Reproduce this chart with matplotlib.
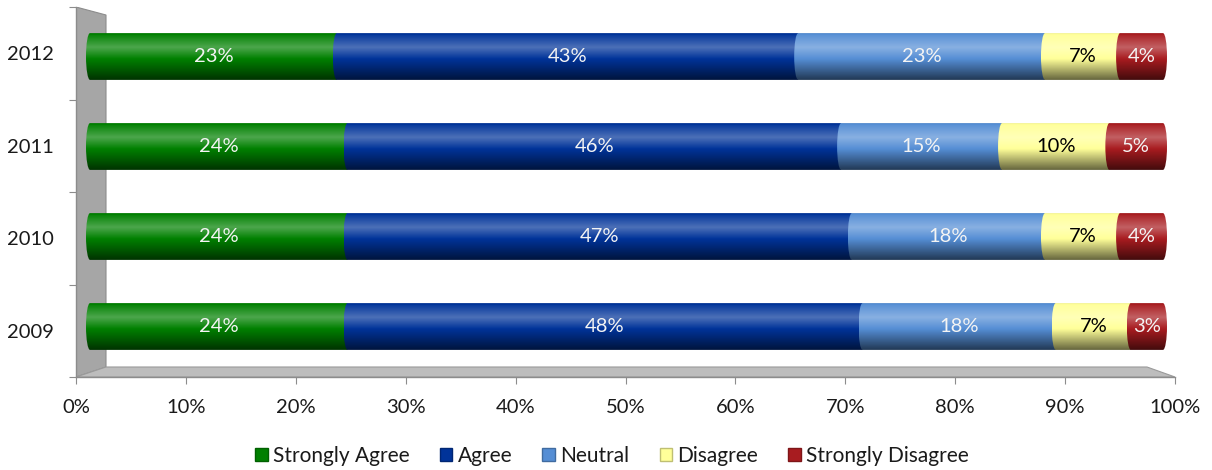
import numpy as np
import matplotlib
matplotlib.use("Agg")
import matplotlib.pyplot as plt
from matplotlib.path import Path
from matplotlib.patches import Polygon, Patch
from matplotlib.colors import to_rgb

plt.rcParams['font.family'] = ['Lato', 'DejaVu Sans']

# ---------------- data ----------------
years = ["2009", "2010", "2011", "2012"]
categories = ["Strongly Agree", "Agree", "Neutral", "Disagree", "Strongly Disagree"]
strongly_agree = [24, 24, 24, 23]
agree = [48, 47, 46, 43]
neutral = [18, 18, 15, 23]
disagree = [7, 7, 10, 7]
strongly_disagree = [3, 4, 5, 4]
x_ticks = [0, 10, 20, 30, 40, 50, 60, 70, 80, 90, 100]

series = [strongly_agree, agree, neutral, disagree, strongly_disagree]
colors = ["#008000", "#003399", "#558ED5", "#FFFF99", "#A81C20"]
label_colors = ["#f4f4f4", "#f4f4f4", "#f4f4f4", "black", "#f4f4f4"]

W, H = 1212, 470
fig = plt.figure(figsize=(W / 100, H / 100), dpi=100)


def fbox(x0, x1, ytop, ybot):
    return [x0 / W, 1 - ybot / H, (x1 - x0) / W, (ybot - ytop) / H]


# ------------- frame (wall, floor, axes) -------------
axf = fig.add_axes(fbox(76, 1175, 7, 377))
axf.set_facecolor("none")
axf.set_xlim(0, 100)
axf.set_ylim(0, 4)
for s in ["top", "right"]:
    axf.spines[s].set_visible(False)
for s in ["left", "bottom"]:
    axf.spines[s].set_color("#8C8C8C")
    axf.spines[s].set_linewidth(1.0)
axf.set_xticks(x_ticks)
axf.set_xticklabels([f"{t}%" for t in x_ticks])
axf.set_yticks(range(5))
axf.set_yticklabels([])
axf.set_yticks([i + 0.5 for i in range(len(years))], minor=True)
axf.set_yticklabels(years, minor=True)
axf.tick_params(axis="x", which="major", length=5, color="#8C8C8C", labelsize=14.5,
                labelcolor="#1a1a1a", pad=11)
axf.tick_params(axis="y", which="major", length=5, color="#8C8C8C")
axf.tick_params(axis="y", which="minor", length=0, labelsize=14.5, labelcolor="#1a1a1a", pad=16)

fw = 1175 - 76
fh = 377 - 7
wall = Polygon([(0, 0), (0, 1), (30 / fw, 1 - 8 / fh), (30 / fw, 10 / fh)],
               closed=True, transform=axf.transAxes, facecolor="#A6A6A6",
               edgecolor="#8C8C8C", lw=0.8, zorder=0.5)
floor = Polygon([(0, 0), (30 / fw, 10 / fh), ((1147 - 76) / fw, 10 / fh), (1, 0)],
                closed=True, transform=axf.transAxes, facecolor="#BDBDBD",
                edgecolor="#9A9A9A", lw=0.8, zorder=0.5)
axf.add_patch(wall)
axf.add_patch(floor)

# ------------- bars -------------
px0, px100 = 90.0, 1163.0
px_per_unit = (px100 - px0) / 100.0
e = 4.0 / px_per_unit  # cap bulge in data units
axb = fig.add_axes(fbox(px0 - 4, px100 + 4, 11.5, 371.5))
axb.set_facecolor("none")
axb.axis("off")

bar_h = 0.52
k = 0.5523


def shade(color, n=80):
    c = np.array(to_rgb(color))
    t = np.linspace(0, 1, n)
    tp = [0.0, 0.05, 0.30, 0.55, 1.0]
    fp = [0.95, 1.05, 1.30, 1.0, 0.40]
    f = np.interp(t, tp, fp)
    out = np.zeros((n, 2, 3))
    for i, fi in enumerate(f):
        if fi >= 1:
            col = c + (1 - c) * (fi - 1)
        else:
            col = c * fi
        out[i, :, :] = np.clip(col, 0, 1)
    return out


def seg_path(x0, x1, yc, hh, last):
    yt, yb = yc + hh, yc - hh
    verts = [(x0, yt),
             (x0 - k * e, yt), (x0 - e, yc + k * hh), (x0 - e, yc),
             (x0 - e, yc - k * hh), (x0 - k * e, yb), (x0, yb),
             (x1, yb)]
    codes = [Path.MOVETO, Path.CURVE4, Path.CURVE4, Path.CURVE4,
             Path.CURVE4, Path.CURVE4, Path.CURVE4, Path.LINETO]
    if last:
        verts += [(x1 + k * e, yb), (x1 + e, yc - k * hh), (x1 + e, yc),
                  (x1 + e, yc + k * hh), (x1 + k * e, yt), (x1, yt)]
        codes += [Path.CURVE4] * 6
    else:
        verts += [(x1, yt)]
        codes += [Path.LINETO]
    verts += [(x0, yt)]
    codes += [Path.CLOSEPOLY]
    return Path(verts, codes)


for yi, year in enumerate(years):
    left = 0.0
    for si, vals in enumerate(series):
        v = vals[yi]
        x0, x1 = left, left + v
        p = seg_path(x0, x1, yi, bar_h / 2, si == len(series) - 1)
        im = axb.imshow(shade(colors[si]), extent=[x0 - e, x1 + e, yi - bar_h / 2, yi + bar_h / 2],
                        aspect="auto", interpolation="bilinear", origin="upper", zorder=2 + si * 0.01)
        im.set_clip_path(p, transform=axb.transData)
        axb.text((x0 + x1) / 2, yi, f"{v}%", ha="center", va="center",
                 color=label_colors[si], fontsize=14.5, zorder=5)
        left = x1

axb.set_xlim(-e, 100 + e)
axb.set_ylim(-0.5, len(years) - 0.5)

# ------------- legend -------------
def darker(c, f=0.75):
    return tuple(np.array(to_rgb(c)) * f)

handles = [Patch(facecolor=c, edgecolor=darker(c)) for c in colors]
fig.legend(handles, categories, loc="center", bbox_to_anchor=(612 / W, 1 - 456 / H),
           ncol=5, frameon=False, fontsize=15, handlelength=0.6, handleheight=0.6,
           handletextpad=0.25, columnspacing=1.45, labelcolor="#1a1a1a")

fig.savefig("out.png", dpi=100)
